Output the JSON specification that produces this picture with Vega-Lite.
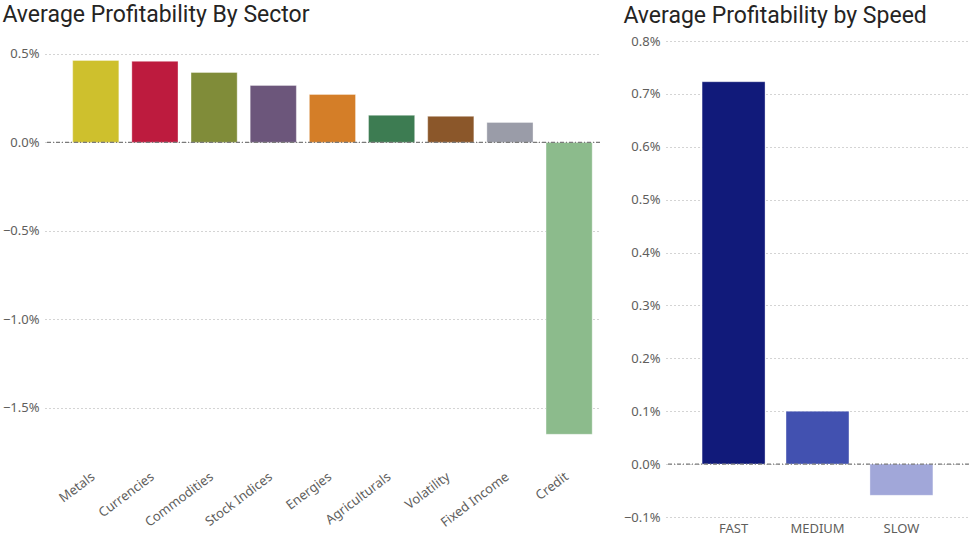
{
  "$schema": "https://vega.github.io/schema/vega-lite/v6.json",
  "padding": {"left": 2, "top": 4, "right": 3, "bottom": 0},
  "background": "white",
  "spacing": 22,
  "config": {
    "view": {"stroke": null},
    "font": "Noto Sans",
    "title": {"font": "Roboto", "fontSize": 23, "fontWeight": "normal", "color": "#252423", "anchor": "start", "frame": "bounds"},
    "axis": {"labelFont": "Noto Sans", "labelFontSize": 13, "labelColor": "#605E5C", "domain": false, "ticks": false, "title": null},
    "bar": {"stroke": "white", "strokeOpacity": 0.35, "strokeWidth": 1}
  },
  "datasets": {
    "sector": [
      {"sector": "Metals", "profit": 0.00463},
      {"sector": "Currencies", "profit": 0.00458},
      {"sector": "Commodities", "profit": 0.00395},
      {"sector": "Stock Indices", "profit": 0.00322},
      {"sector": "Energies", "profit": 0.00271},
      {"sector": "Agriculturals", "profit": 0.00153},
      {"sector": "Volatility", "profit": 0.00147},
      {"sector": "Fixed Income", "profit": 0.00113},
      {"sector": "Credit", "profit": -0.0165}
    ],
    "speed": [
      {"speed": "FAST", "profit": 0.00723},
      {"speed": "MEDIUM", "profit": 0.001},
      {"speed": "SLOW", "profit": -0.00059}
    ]
  },
  "hconcat": [
    {
      "title": {"text": "Average Profitability By Sector", "offset": 14},
      "width": 555,
      "height": 411,
      "layer": [
        {
          "data": {"name": "sector"},
          "mark": {"type": "bar"},
          "encoding": {
            "x": {
              "field": "sector", "type": "nominal", "sort": null,
              "scale": {"paddingInner": 0.22, "paddingOuter": 0.3, "align": 0.78},
              "axis": {"labelAngle": -37, "labelAlign": "right", "labelBaseline": "top", "labelPadding": 18, "labelOffset": -6, "grid": false}
            },
            "y": {
              "field": "profit", "type": "quantitative",
              "scale": {"domain": [-0.0175, 0.00573], "nice": false, "zero": false},
              "axis": {"values": [-0.015, -0.01, -0.005, 0, 0.005], "format": ".1%", "labelPadding": 6, "grid": true, "gridColor": "#a8a8a8", "gridDash": [1, 3], "gridWidth": 1}
            },
            "color": {
              "field": "sector", "type": "nominal", "legend": null,
              "scale": {
                "domain": ["Metals", "Currencies", "Commodities", "Stock Indices", "Energies", "Agriculturals", "Volatility", "Fixed Income", "Credit"],
                "range": ["#CEC02D", "#BD1B3E", "#808C39", "#6C567B", "#D47E28", "#3D7C52", "#8B572A", "#9A9CA8", "#8CBB8C"]
              }
            }
          }
        },
        {
          "data": {"values": [{}]},
          "mark": {"type": "rule", "color": "#7a7a7a", "strokeDash": [4, 2, 1, 2], "strokeWidth": 1.3},
          "encoding": {"y": {"datum": 0}}
        }
      ]
    },
    {
      "title": {"text": "Average Profitability by Speed", "offset": 7},
      "width": 303,
      "height": 476,
      "layer": [
        {
          "data": {"name": "speed"},
          "mark": {"type": "bar"},
          "encoding": {
            "x": {
              "field": "speed", "type": "nominal", "sort": null,
              "scale": {"paddingInner": 0.25, "paddingOuter": 0.43},
              "axis": {"labelAngle": 0, "labelPadding": 5, "grid": false}
            },
            "y": {
              "field": "profit", "type": "quantitative",
              "scale": {"domain": [-0.001, 0.008], "nice": false, "zero": false},
              "axis": {"values": [-0.001, 0, 0.001, 0.002, 0.003, 0.004, 0.005, 0.006, 0.007, 0.008], "format": ".1%", "labelPadding": 6, "grid": true, "gridColor": "#a8a8a8", "gridDash": [1, 3], "gridWidth": 1}
            },
            "color": {
              "field": "speed", "type": "nominal", "legend": null,
              "scale": {"domain": ["FAST", "MEDIUM", "SLOW"], "range": ["#111A7A", "#4251B0", "#A1A7D9"]}
            }
          }
        },
        {
          "data": {"values": [{}]},
          "mark": {"type": "rule", "color": "#7a7a7a", "strokeDash": [4, 2, 1, 2], "strokeWidth": 1.3},
          "encoding": {"y": {"datum": 0}}
        }
      ]
    }
  ],
  "resolve": {"scale": {"color": "independent"}}
}
